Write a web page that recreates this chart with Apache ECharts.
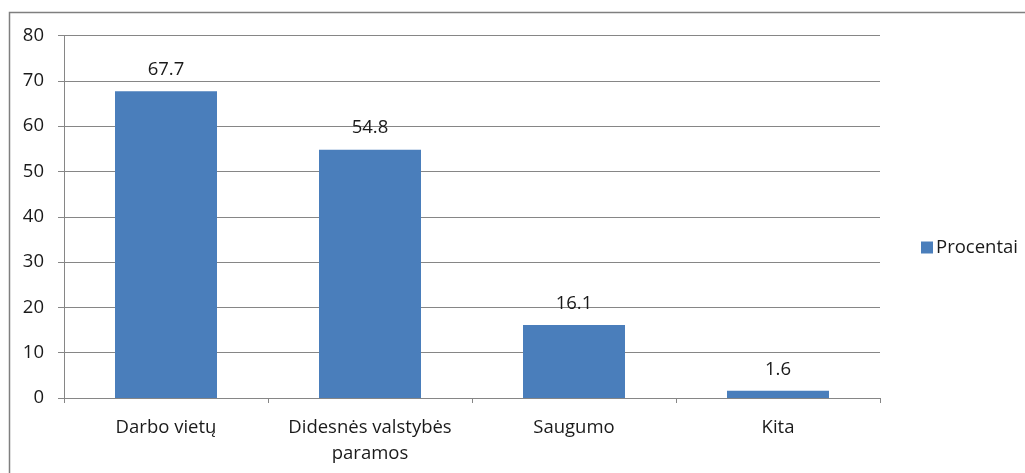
<!DOCTYPE html>
<html><head><meta charset="utf-8">
<script src="https://cdn.jsdelivr.net/npm/echarts@6/dist/echarts.min.js"></script>
<style>html,body{margin:0;padding:0;background:#fff}#c{width:1025px;height:473px}</style>
</head><body><div id="c"></div>
<script>
const categories = ['Darbo vietų', 'Didesnės valstybės\nparamos', 'Saugumo', 'Kita'];
const values = [67.7, 54.8, 16.1, 1.6];
const seriesName = 'Procentai';
const yTicks = [0, 10, 20, 30, 40, 50, 60, 70, 80];

const font = 'Open Sans';
const chart = echarts.init(document.getElementById('c'), null, {renderer: 'canvas'});
chart.setOption({
  animation: false,
  backgroundColor: '#fff',
  textStyle: {fontFamily: font},
  graphic: [{
    type: 'rect', shape: {x: 9.5, y: 12.5, width: 1100, height: 600},
    style: {fill: 'none', stroke: '#7f7f7f', lineWidth: 1.5}, z: -1
  }],
  grid: {left: 64, right: 145, top: 35.5, bottom: 75},
  legend: {
    data: [seriesName], orient: 'vertical', left: 916, top: 233,
    itemWidth: 12, itemHeight: 12, itemGap: 4, icon: 'rect',
    textStyle: {fontFamily: font, fontSize: 18.5, color: '#1a1a1a', padding: [0, 0, 0, -2]}
  },
  xAxis: {
    type: 'category', data: categories,
    axisLine: {lineStyle: {color: '#868686', width: 1}},
    axisTick: {show: true, length: 5, lineStyle: {color: '#868686'}},
    axisLabel: {fontFamily: font, fontSize: 18.5, color: '#1a1a1a', margin: 17, lineHeight: 26, interval: 0}
  },
  yAxis: {
    type: 'value', min: yTicks[0], max: yTicks[yTicks.length - 1], interval: 10,
    axisLine: {show: true, lineStyle: {color: '#868686'}},
    axisTick: {show: true, length: 6, lineStyle: {color: '#868686'}},
    splitLine: {lineStyle: {color: '#868686', width: 1}},
    axisLabel: {fontFamily: font, fontSize: 18.5, color: '#1a1a1a', margin: 20}
  },
  series: [{
    name: seriesName, type: 'bar', data: values, barWidth: '50%',
    itemStyle: {color: '#4a7ebb'},
    label: {show: true, position: 'top', distance: 12, fontFamily: font, fontSize: 18.5, color: '#1a1a1a'}
  }]
});
</script></body></html>
